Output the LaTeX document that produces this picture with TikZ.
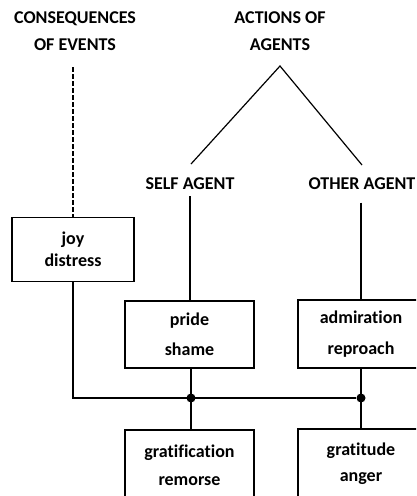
\documentclass[tikz,border=0pt]{standalone}
\usepackage{fontspec}
\setmainfont[Ligatures=NoCommon]{Carlito}
\begin{document}
\begin{tikzpicture}[x=1pt,y=-1pt,line width=1.2pt,
  lbl/.style={font=\bfseries\fontsize{18}{22}\selectfont,align=center,inner sep=0pt},
  box/.style={draw,font=\bfseries\fontsize{18}{22}\selectfont,align=center,inner sep=0pt},
  jdot/.style={circle,fill=black,inner sep=0pt,minimum size=9pt}]
\useasboundingbox (0,0) rectangle (416,496);
\clip (0,0) rectangle (416,496);
\node[lbl] (cons) at (75,31) {CONSEQUENCES\\[5pt]OF EVENTS};
\node[lbl] (act) at (280,31) {ACTIONS OF\\[5pt]AGENTS};
\node[lbl] (self) at (190,184) {SELF AGENT};
\node[lbl] (other) at (362,184) {OTHER AGENT};
\coordinate (dtop) at (73,67);
\coordinate (apex) at (280,66);
\coordinate (sl) at (191,164);
\coordinate (ol) at (362,165);
\node[box,minimum width=122pt,minimum height=64pt] (joy) at (73,249.5) {joy\\distress};
\node[box,minimum width=129pt,minimum height=67pt] (pride) at (189.5,334.5) {pride\\[8pt]shame};
\node[box,minimum width=126pt,minimum height=68pt] (admir) at (361,334) {admiration\\[9pt]reproach};
\node[box,minimum width=129pt,minimum height=70pt] (grat) at (189.5,465) {gratification\\[6pt]remorse};
\node[box,minimum width=126pt,minimum height=70pt] (gratit) at (361,464) {gratitude\\[4pt]anger};
\node[jdot] (d1) at (191,398) {};
\node[jdot] (d2) at (361,398) {};
\draw[dash pattern=on 5pt off 2pt] (dtop) -- (joy.north);
\draw (sl) -- (apex) -- (ol);
\draw (self.south |- 0,196) -- (self.south |- pride.north);
\draw (other.south -| d2) ++(0,12) -- (admir.north);
\draw (joy.south) |- (d2);
\draw (pride.south -| d1) -- (grat.north -| d1);
\draw (admir.south) -- (gratit.north);
\end{tikzpicture}
\end{document}
